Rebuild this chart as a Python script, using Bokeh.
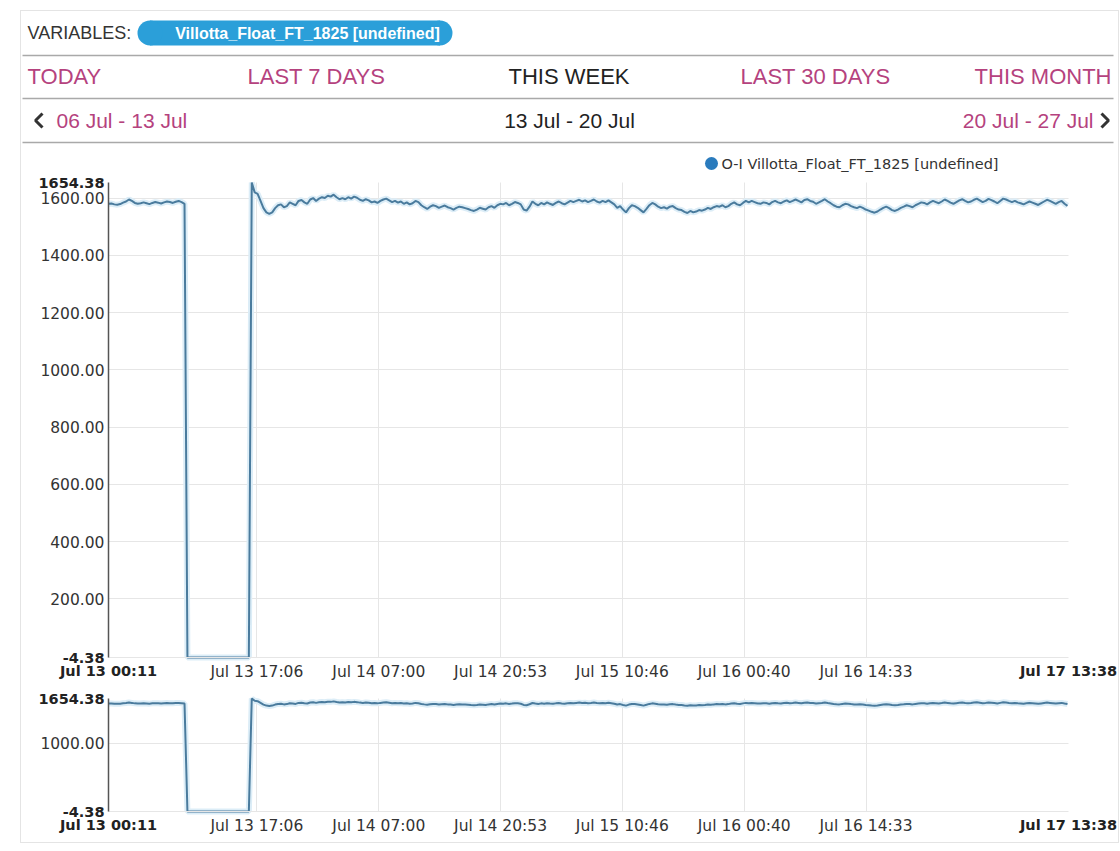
import pandas as pd
from bokeh.plotting import figure
from bokeh.models import (Range1d, FixedTicker, PrintfTickFormatter, Grid,
                          DatetimeTickFormatter, DatetimeAxis, LinearAxis)
from bokeh.layouts import column
from bokeh.embed import file_html
from bokeh.resources import INLINE

# ---------------- data ----------------
variable_name = "Villotta_Float_FT_1825 [undefined]"
legend_label = "O-I Villotta_Float_FT_1825 [undefined]"
tabs = ["TODAY", "LAST 7 DAYS", "THIS WEEK", "LAST 30 DAYS", "THIS MONTH"]
active_tab = "THIS WEEK"
weeks = ["06 Jul - 13 Jul", "13 Jul - 20 Jul", "20 Jul - 27 Jul"]

start_time = "2015-07-13 00:11"
end_time = "2015-07-17 13:38"
sample_step = "20min"

values = [
    1580, 1581, 1578, 1577, 1579, 1584, 1588, 1595, 1590, 1583, 1580, 1582,
    1585, 1582, 1579, 1583, 1586, 1584, 1581, 1585, 1588, 1586, 1583, 1587,
    1590, 1586, 1580,
    -4.38, -4.38, -4.38, -4.38, -4.38, -4.38, -4.38, -4.38, -4.38, -4.38, -4.38,
    -4.38, -4.38, -4.38, -4.38, -4.38, -4.38, -4.38, -4.38, -4.38, -4.38, -4.38,
    1654.38,
    1620, 1615, 1590, 1565, 1550, 1545, 1550, 1565, 1575, 1578,
    1568, 1572, 1585, 1580, 1575, 1590, 1593, 1585, 1580, 1595,
    1600, 1590, 1598, 1603, 1600, 1608, 1605, 1612, 1603, 1596,
    1600, 1596, 1603, 1598, 1605, 1601, 1594, 1590, 1596, 1592,
    1585, 1588, 1583, 1590, 1595, 1598, 1592, 1586, 1590, 1584,
    1588, 1580, 1585, 1578, 1582, 1590, 1586, 1575, 1568, 1562,
    1570, 1575, 1572, 1566, 1570, 1574, 1568, 1565, 1560, 1566,
    1570, 1568, 1565, 1562, 1558, 1555, 1560, 1566, 1563, 1560,
    1568, 1572, 1566, 1575, 1580, 1578, 1583, 1575, 1580, 1586,
    1583, 1578, 1560, 1556, 1570, 1588, 1580, 1575, 1583, 1578,
    1585, 1580, 1576, 1583, 1588, 1582, 1578, 1584, 1590, 1586,
    1590, 1594, 1588, 1592, 1586, 1590, 1595, 1588, 1584, 1590,
    1586, 1592, 1585, 1578, 1566, 1572, 1560, 1550, 1565, 1575,
    1572, 1566, 1558, 1550, 1562, 1575, 1583, 1578, 1570, 1565,
    1568, 1563, 1570, 1572, 1565, 1560, 1558, 1552, 1548, 1555,
    1550, 1553, 1558, 1556, 1560, 1566, 1562, 1568, 1572, 1570,
    1575, 1568, 1572, 1580, 1585, 1578, 1575, 1583, 1590, 1585,
    1590, 1586, 1582, 1580, 1585, 1583, 1578, 1586, 1590, 1585,
    1582, 1588, 1592, 1586, 1590, 1595, 1590, 1585, 1593, 1596,
    1590, 1587, 1580, 1585, 1590, 1596, 1588, 1582, 1575, 1570,
    1568, 1575, 1580, 1578, 1572, 1568, 1565, 1570, 1566, 1560,
    1556, 1552, 1549, 1553, 1560, 1566, 1570, 1565, 1558, 1555,
    1560, 1566, 1570, 1575, 1572, 1568, 1575, 1580, 1585, 1583,
    1578, 1585, 1590, 1586, 1582, 1588, 1595, 1590, 1584, 1580,
    1586, 1592, 1596, 1590, 1585, 1588, 1594, 1598, 1592, 1586,
    1590, 1597, 1593, 1588, 1582, 1590, 1598, 1595, 1590, 1586,
    1590, 1585, 1582, 1578, 1583, 1588, 1584, 1580, 1576, 1582,
    1588, 1594, 1590, 1585, 1580, 1586, 1590, 1580, 1573,
]

x_tick_times = ["2015-07-13 17:06", "2015-07-14 07:00", "2015-07-14 20:53",
                "2015-07-15 10:46", "2015-07-16 00:40", "2015-07-16 14:33"]
main_y_ticks = [200, 400, 600, 800, 1000, 1200, 1400, 1600]
overview_y_ticks = [1000]

# ---------------- derived ----------------
times = pd.date_range(start_time, periods=len(values), freq=sample_step)
t0 = pd.Timestamp(start_time)
t1 = pd.Timestamp(end_time)
y_min, y_max = min(values), max(values)


def ms(t):
    return pd.Timestamp(t).value / 1e6


tick_ms = [ms(t) for t in x_tick_times]
x_lo, x_hi = ms(t0), ms(t1)

MAGENTA = "#b5427e"
DARK = "#222222"
LINE = "#4a7b9d"
HALO = "#dcedf7"
GRID = "#e6e6e6"
AXFONT = "DejaVu Sans"
DT_FMT = "%b %d %H:%M"

W = 1097
OX, OY = 21, 11  # reference offset of the container content

# ---------------- header ----------------
HH = 163
hdr = figure(width=W, height=HH, x_range=Range1d(0, W), y_range=Range1d(HH, 0),
             x_axis_location=None, y_axis_location=None, toolbar_location=None,
             output_backend="svg", min_border=0)
hdr.frame_align = False
hdr.grid.visible = False
hdr.outline_line_color = None


def htext(x, y, txt, color=DARK, size="22px", align="left", font="Liberation Sans",
          style="normal"):
    hdr.text(x=[x - OX], y=[y - OY], text=[txt], text_color=color,
             text_font_size=size, text_align=align, text_baseline="middle",
             text_font={"value": font}, text_font_style=style)


htext(27, 32, "VARIABLES:", size="18px", color="#333333")
hdr.quad(left=[137 + 12.5 - OX], right=[452 - 12.5 - OX], top=[20 - OY],
         bottom=[45 - OY], fill_color="#2b9fd9", line_color=None)
hdr.scatter(x=[137 + 12.5 - OX, 452 - 12.5 - OX], y=[32.5 - OY, 32.5 - OY],
            size=25, marker="circle", fill_color="#2b9fd9", line_color=None)
htext(307, 33, variable_name, color="white", size="16px", align="center", style="bold")

for yy in (55, 98, 142):
    hdr.segment(x0=[1], y0=[yy - OY], x1=[1113 - OX], y1=[yy - OY],
                line_color="#a9a9a9", line_width=1.5)

tab_pos = [(27, "left"), (247, "left"), (508, "left"), (740, "left"), (1111, "right")]
for name, (xx, al) in zip(tabs, tab_pos):
    htext(xx, 76, name, color=DARK if name == active_tab else MAGENTA,
          size="22px", align=al)

htext(56, 120, weeks[0], color=MAGENTA, size="21px")
htext(569, 120, weeks[1], color=DARK, size="21px", align="center")
htext(1093, 120, weeks[2], color=MAGENTA, size="21px", align="right")
hdr.line(x=[42 - OX, 35 - OX, 42 - OX], y=[113 - OY, 120 - OY, 127 - OY],
         line_color="#333333", line_width=3)
hdr.line(x=[1101 - OX, 1108 - OX, 1101 - OX], y=[113 - OY, 120 - OY, 127 - OY],
         line_color="#333333", line_width=3)

hdr.scatter(x=[711 - OX], y=[163 - OY], size=13, marker="circle",
            fill_color="#2a7bbd", line_color=None)
htext(721, 163, legend_label, color="#333333", size="14.5px", font=AXFONT)


# ---------------- plots ----------------
def dt_formatter():
    return DatetimeTickFormatter(
        microseconds=DT_FMT, milliseconds=DT_FMT, seconds=DT_FMT, minsec=DT_FMT,
        minutes=DT_FMT, hourmin=DT_FMT, hours=DT_FMT, days=DT_FMT, months=DT_FMT,
        years=DT_FMT, strip_leading_zeros=False)


def style_axis(ax, bold=False, standoff=5):
    ax.major_tick_line_color = None
    ax.minor_tick_line_color = None
    ax.major_tick_out = 0
    ax.major_tick_in = 0
    ax.minor_tick_out = 0
    ax.minor_tick_in = 0
    ax.major_label_standoff = standoff
    ax.major_label_text_font = AXFONT
    ax.major_label_text_font_size = "14.5px" if bold else "15.5px"
    ax.major_label_text_color = DARK if bold else "#333333"
    ax.major_label_text_font_style = "bold" if bold else "normal"


HAS_CROSS = "cross_bounds" in Grid.properties()


def make_plot(height, top, bottom, yticks, left=87, data_w=960):
    # the frame fills the whole canvas; the data window sits inside it so that the
    # axes (pinned to the data edges) can draw their labels around it
    data_h = height - top - bottom
    kx = (x_hi - x_lo) / data_w
    ky = (y_max - y_min) / data_h
    right = W - left - data_w
    p = figure(width=W, height=height,
               x_range=Range1d(x_lo - left * kx, x_hi + right * kx),
               y_range=Range1d(y_min - bottom * ky, y_max + top * ky),
               x_axis_location=None, y_axis_location=None,
               toolbar_location=None, output_backend="svg", min_border=0)
    p.outline_line_color = None
    p.grid.visible = False

    # grids restricted to the data window
    if HAS_CROSS:
        p.add_layout(Grid(dimension=0, ticker=FixedTicker(ticks=tick_ms),
                          cross_bounds=(y_min, y_max), grid_line_color=GRID))
        p.add_layout(Grid(dimension=1, ticker=FixedTicker(ticks=yticks),
                          cross_bounds=(x_lo, x_hi), grid_line_color=GRID))
    else:
        p.segment(x0=tick_ms, x1=tick_ms, y0=[y_min] * len(tick_ms),
                  y1=[y_max] * len(tick_ms), line_color=GRID)
        p.segment(x0=[x_lo] * len(yticks), x1=[x_hi] * len(yticks), y0=yticks,
                  y1=yticks, line_color=GRID)

    p.line(times, values, line_color=HALO, line_width=6)
    p.line(times, values, line_color=LINE, line_width=2)

    ya = LinearAxis(ticker=FixedTicker(ticks=yticks),
                    formatter=PrintfTickFormatter(format="%.2f"),
                    fixed_location=x_lo, bounds=(y_min, y_max),
                    axis_line_color="#555555", axis_line_width=1.5)
    style_axis(ya, standoff=4)
    p.add_layout(ya, "left")

    yb = LinearAxis(ticker=FixedTicker(ticks=[y_min, y_max]),
                    formatter=PrintfTickFormatter(format="%.2f"),
                    fixed_location=x_lo, axis_line_color=None)
    style_axis(yb, bold=True, standoff=4)
    p.add_layout(yb, "left")

    xa = DatetimeAxis(ticker=FixedTicker(ticks=tick_ms), formatter=dt_formatter(),
                      fixed_location=y_min, bounds=(x_lo, x_hi),
                      axis_line_color=GRID)
    style_axis(xa, standoff=5)
    p.add_layout(xa, "below")

    xb = DatetimeAxis(ticker=FixedTicker(ticks=[x_lo, x_hi]), formatter=dt_formatter(),
                      fixed_location=y_min, axis_line_color=None)
    style_axis(xb, bold=True, standoff=5)
    p.add_layout(xb, "below")
    return p


main = make_plot(516, 8, 33, main_y_ticks)
overview = make_plot(152, 8, 31, overview_y_ticks)

layout = column(hdr, main, overview, spacing=0, margin=(10, 0, 0, 20),
                styles={"border": "1px solid #e4e4e4"})

open("out.html", "w").write(file_html(layout, INLINE))
